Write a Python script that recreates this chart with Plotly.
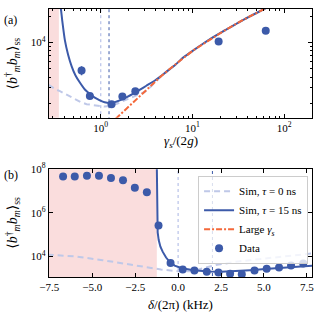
import plotly.graph_objects as go

# ---------------- Panel (a) data ----------------
a_sim15_x = [0.355, 0.367, 0.38, 0.406, 0.44, 0.481, 0.53, 0.591, 0.67, 0.759, 0.86, 0.975, 1.1, 1.25, 1.42,
             1.61, 1.9, 2.24, 2.65, 3.14, 3.86, 4.5, 5.3, 6.37, 8, 10.3, 15, 22.3, 36.7, 60.6, 75]
a_sim15_y = [28200, 24300, 17800, 10600, 7240, 5320, 4170, 3460, 2880, 2560, 2320, 2160, 2050, 2010, 2060,
             2160, 2340, 2560, 2850, 3180, 3630, 4070, 4680, 5430, 6760, 8180, 10700, 13700, 18500, 24300, 27500]

a_sim0_x = [0.27, 0.316, 0.358, 0.42, 0.5, 0.6, 0.7, 0.86, 1.0, 1.1, 1.25, 1.5, 1.82, 2.2, 2.65, 3.0, 3.5,
            4.0, 4.5, 5.3, 6.37, 8, 10.3, 15, 22.3, 36.7, 60.6, 75]
a_sim0_y = [3260, 2920, 2750, 2510, 2290, 2070, 1950, 1880, 1830, 1830, 1860, 1970, 2160, 2340, 2510, 2690, 3090,
            3630, 4070, 4680, 5430, 6760, 8180, 10700, 13700, 18500, 24300, 27500]

a_large_x = [1.45, 2, 3, 4.57, 6.37, 10.3, 22.3, 36.7, 60.6, 75]
a_large_y = [1320, 1820, 2740, 4110, 5500, 8180, 13700, 18500, 24300, 27500]

a_data_x = [0.617, 0.76, 1.31, 1.72, 2.38, 19.3, 63]
a_data_y = [4760, 2415, 1950, 2395, 2740, 10300, 13700]
a_data_err = [570, 0, 0, 0, 0, 0, 0]

a_vline_light = 1.0
a_vline_dark = 1.23
a_shade_end = 0.349

# ---------------- Panel (b) data ----------------
b_sim15_x = [-1.245, -1.238, -1.225, -1.19, -1.13, -1.03, -0.9, -0.7, -0.47, -0.2, 0.1, 0.4, 0.9, 1.77,
             2.5, 3.3, 4.2, 5.26, 6.5, 7.9]
b_sim15_y = [3.2e8, 3.2e6, 4.0e5, 1.26e5, 5.6e4, 2.8e4, 1.66e4, 8900, 5370, 3800, 3090, 2690, 2340, 2040,
             2000, 2090, 2340, 2690, 3160, 3800]

b_sim0_x = [-7.6, -6, -4.4, -3, -2, -1, 0, 0.7, 1.2, 1.7, 2.2, 3.5, 5.26, 6.5, 7.95]
b_sim0_y = [12000, 10000, 6760, 4570, 3390, 2510, 2090, 2090, 2510, 3310, 4070, 5890, 8320, 10960, 14100]

b_data_x = [-6.70, -6.02, -5.31, -4.61, -3.91, -3.21, -2.52, -1.82, -1.14, -0.44, 0.27, 0.95, 1.67, 2.35,
            3.03, 3.71, 4.45, 5.16, 5.88, 6.58, 7.29]
b_data_y = [4.68e7, 4.68e7, 5.01e7, 5.01e7, 3.98e7, 3.09e7, 1.41e7, 8.9e6, 2.63e5, 5010, 2510, 2290, 2000,
            1820, 1620, 1510, 2290, 2690, 3090, 3800, 4680]

b_vline_light = 0.0
b_vline_dark = 2.0
b_shade_end = -1.24

BLUE = "#3c5aa9"
LIGHT = "#bfc8e8"
ORANGE = "#f4683a"
PINK = "rgba(240,150,150,0.32)"
FONT = "Liberation Serif, DejaVu Serif, serif"

fig = go.Figure()

# Panel (a)
fig.add_trace(go.Scatter(x=[0.2, a_shade_end, a_shade_end, 0.2], y=[100, 100, 1e6, 1e6], fill="toself",
                         fillcolor=PINK, line=dict(width=0), mode="lines", showlegend=False,
                         hoverinfo="skip", xaxis="x", yaxis="y"))
fig.add_trace(go.Scatter(x=[a_vline_light] * 2, y=[100, 1e6], mode="lines", showlegend=False,
                         line=dict(color="#a9b6e4", width=1, dash="dot"), xaxis="x", yaxis="y"))
fig.add_trace(go.Scatter(x=[a_vline_dark] * 2, y=[100, 1e6], mode="lines", showlegend=False,
                         line=dict(color=BLUE, width=1, dash="dot"), xaxis="x", yaxis="y"))
fig.add_trace(go.Scatter(x=a_sim0_x, y=a_sim0_y, mode="lines", showlegend=False,
                         line=dict(color=LIGHT, width=2, dash="6px,4px"), xaxis="x", yaxis="y"))
fig.add_trace(go.Scatter(x=a_sim15_x, y=a_sim15_y, mode="lines", showlegend=False,
                         line=dict(color=BLUE, width=2, shape="spline", smoothing=0.6), xaxis="x", yaxis="y"))
fig.add_trace(go.Scatter(x=a_large_x, y=a_large_y, mode="lines", showlegend=False,
                         line=dict(color=ORANGE, width=2, dash="6px,2px,2px,2px"), xaxis="x", yaxis="y"))
fig.add_trace(go.Scatter(x=a_data_x, y=a_data_y, mode="markers", showlegend=False,
                         marker=dict(color=BLUE, size=8),
                         error_y=dict(type="data", array=a_data_err, color=BLUE, thickness=1.5, width=0),
                         xaxis="x", yaxis="y"))

# Panel (b)
fig.add_trace(go.Scatter(x=[-9, b_shade_end, b_shade_end, -9], y=[100, 100, 1e10, 1e10], fill="toself",
                         fillcolor=PINK, line=dict(width=0), mode="lines", showlegend=False,
                         hoverinfo="skip", xaxis="x2", yaxis="y2"))
fig.add_trace(go.Scatter(x=[b_vline_light] * 2, y=[100, 1e10], mode="lines", showlegend=False,
                         line=dict(color="#a9b6e4", width=1, dash="dot"), xaxis="x2", yaxis="y2"))
fig.add_trace(go.Scatter(x=[b_vline_dark] * 2, y=[100, 1e10], mode="lines", showlegend=False,
                         line=dict(color=BLUE, width=1, dash="dot"), xaxis="x2", yaxis="y2"))
fig.add_trace(go.Scatter(x=b_sim0_x, y=b_sim0_y, mode="lines", name="Sim, <i>τ</i> = 0 ns",
                         line=dict(color=LIGHT, width=2, dash="6px,4px"), xaxis="x2", yaxis="y2"))
fig.add_trace(go.Scatter(x=b_sim15_x, y=b_sim15_y, mode="lines", name="Sim, <i>τ</i> = 15 ns",
                         line=dict(color=BLUE, width=2), xaxis="x2", yaxis="y2"))
fig.add_trace(go.Scatter(x=[None], y=[None], mode="lines", name="Large <i>γ<sub>s</sub></i>",
                         line=dict(color=ORANGE, width=2, dash="6px,2px,2px,2px"), xaxis="x2", yaxis="y2"))
fig.add_trace(go.Scatter(x=b_data_x, y=b_data_y, mode="markers", name="Data",
                         marker=dict(color=BLUE, size=8), xaxis="x2", yaxis="y2"))

axis_common = dict(showline=True, linecolor="black", linewidth=1.2, mirror="ticks", ticks="inside",
                   tickcolor="black", ticklen=4, tickwidth=1, showgrid=False, zeroline=False,
                   ticklabeloverflow="allow",
                   tickfont=dict(family=FONT, size=11, color="black"))

minor_x = [m * 10 ** e for e in (-1, 0, 1, 2) for m in range(2, 10)]
minor_y = [m * 10 ** e for e in (3, 4) for m in range(2, 10)]

YT = "⟨<i>b</i><sup>†</sup><sub><i>m</i></sub><i>b</i><sub><i>m</i></sub>⟩<sub>ss</sub>"

fig.update_layout(
    width=315, height=315, autosize=False,
    margin=dict(l=49, r=2, t=1, b=38),
    paper_bgcolor="white", plot_bgcolor="white",
    font=dict(family=FONT, size=11, color="black"),
    xaxis=dict(type="log", range=[-0.565, 2.304], domain=[0, 1], anchor="y",
               tickvals=[1, 10, 100], ticktext=["10<sup>0</sup>", "10<sup>1</sup>", "10<sup>2</sup>"],
               minor=dict(tickvals=minor_x, ticks="inside", ticklen=2, tickcolor="black"),
               **axis_common),
    yaxis=dict(type="log", range=[3.133, 4.386], domain=[0.594, 1.0], anchor="x",
               tickvals=[1e4], ticktext=["10<sup>4</sup>"],
               minor=dict(tickvals=minor_y, ticks="inside", ticklen=2, tickcolor="black"),
               **axis_common),
    xaxis2=dict(range=[-7.52, 7.8], domain=[0, 1], anchor="y2",
                tickvals=[-7.5, -5.0, -2.5, 0.0, 2.5, 5.0, 7.5],
                ticktext=["−7.5", "−5.0", "−2.5", "0.0", "2.5", "5.0", "7.5"],
                **axis_common),
    yaxis2=dict(type="log", range=[3.056, 8.0], domain=[0, 0.402], anchor="x2",
                tickvals=[1e4, 1e6, 1e8], ticktext=["10<sup>4</sup>", "10<sup>6</sup>", "10<sup>8</sup>"],
                **axis_common),
    legend=dict(x=0.985, y=0.378, xanchor="right", yanchor="top", bgcolor="rgba(255,255,255,0.8)",
                bordercolor="#cccccc", borderwidth=1, font=dict(family=FONT, size=11),
                itemwidth=30, tracegroupgap=0),
    annotations=[
        dict(text="(a)", x=-0.178, y=0.96, xref="paper", yref="paper", xanchor="left", yanchor="middle",
             showarrow=False, font=dict(family=FONT, size=12)),
        dict(text="(b)", x=-0.178, y=0.38, xref="paper", yref="paper", xanchor="left", yanchor="middle",
             showarrow=False, font=dict(family=FONT, size=12)),
        dict(text=YT, x=-0.14, y=0.797, xref="paper", yref="paper", textangle=-90, showarrow=False,
             xanchor="center", yanchor="middle", font=dict(family=FONT, size=14)),
        dict(text=YT, x=-0.14, y=0.203, xref="paper", yref="paper", textangle=-90, showarrow=False,
             xanchor="center", yanchor="middle", font=dict(family=FONT, size=14)),
        dict(text="<i>γ<sub>s</sub></i>/(2<i>g</i>)", x=0.5, y=0.507, xref="paper", yref="paper",
             showarrow=False, xanchor="center", yanchor="middle", font=dict(family=FONT, size=13)),
        dict(text="<i>δ</i>/(2π) (kHz)", x=0.5, y=-0.101, xref="paper", yref="paper",
             showarrow=False, xanchor="center", yanchor="middle", font=dict(family=FONT, size=13)),
    ],
)

fig.write_html("out.html", config={"displayModeBar": False},
               post_script="document.body.style.margin='0px';document.body.style.overflow='hidden';")
